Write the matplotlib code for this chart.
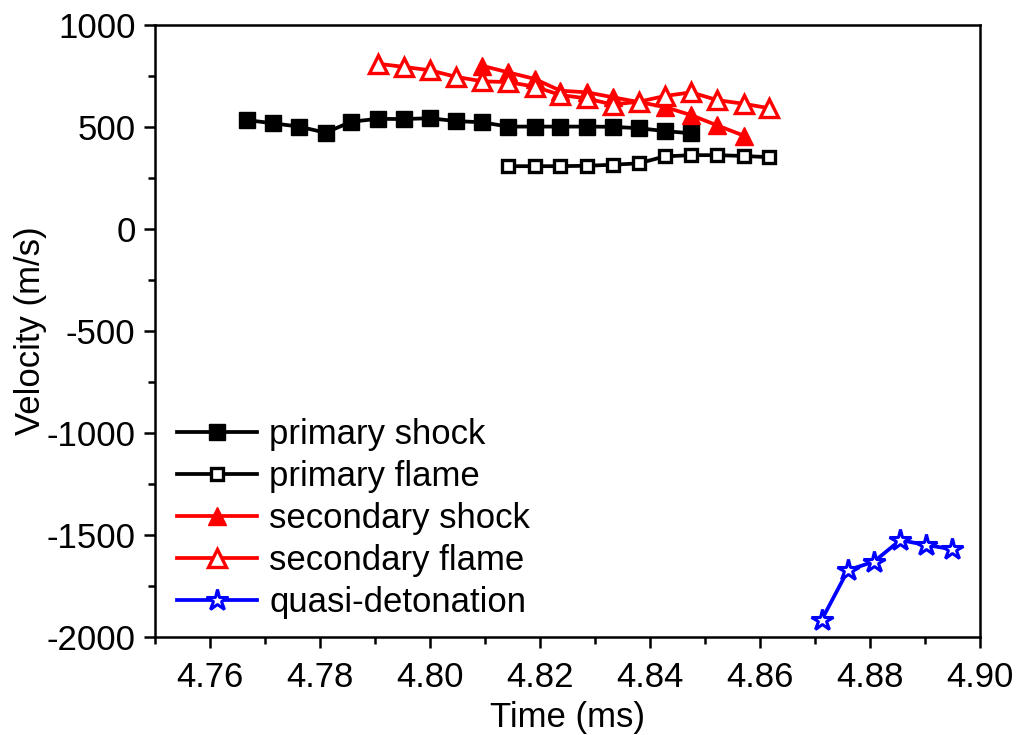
import numpy as np
import matplotlib
matplotlib.use('Agg')
import matplotlib.pyplot as plt
from matplotlib.ticker import MultipleLocator, FormatStrFormatter

plt.rcParams['font.family'] = ['Liberation Sans', 'DejaVu Sans']
plt.rcParams['axes.unicode_minus'] = False

## data
t_ps = [4.7667, 4.7715, 4.7762, 4.7810, 4.7857, 4.7905, 4.7952, 4.8000, 4.8047,
        4.8095, 4.8142, 4.8190, 4.8237, 4.8285, 4.8332, 4.8380, 4.8427, 4.8475]
v_ps = [534, 518, 502, 472, 526, 540, 539, 543, 529, 523, 502, 502, 502, 502, 501, 494, 480, 469]

t_pf = [4.8142, 4.8190, 4.8237, 4.8285, 4.8332, 4.8380, 4.8427, 4.8475, 4.8522, 4.8570, 4.8617]
v_pf = [308, 308, 308, 310, 315, 322, 356, 362, 362, 358, 352]

t_ss = [4.8095, 4.8142, 4.8190, 4.8237, 4.8285, 4.8332, 4.8380, 4.8427, 4.8475, 4.8522, 4.8570]
v_ss = [800, 768, 736, 678, 670, 646, 622, 598, 558, 508, 458]

t_sf = [4.7905, 4.7952, 4.8000, 4.8047, 4.8095, 4.8142, 4.8190, 4.8237, 4.8285,
        4.8332, 4.8380, 4.8427, 4.8475, 4.8522, 4.8570, 4.8617]
v_sf = [810, 795, 778, 746, 724, 720, 698, 657, 640, 610, 624, 652, 670, 632, 614, 592]

t_qd = [4.8712, 4.8760, 4.8807, 4.8855, 4.8902, 4.8950]
v_qd = [-1917, -1672, -1631, -1525, -1549, -1570]

fig = plt.figure(figsize=(10.18, 7.35), dpi=100)
ax = fig.add_axes([155/1018, 98/735, 825/1018, 612/735])

lw = 2.7
ax.plot(t_ps, v_ps, '-s', color='k', lw=lw, ms=11, label='primary shock')
ax.plot(t_pf, v_pf, '-s', color='k', lw=lw, ms=8.5, mfc='white', mew=2.4, label='primary flame')
ax.plot(t_ss, v_ss, '-^', color='red', lw=lw, ms=13, label='secondary shock')
ax.plot(t_sf, v_sf, '-^', color='red', lw=lw, ms=13, mfc='white', mew=2.4, label='secondary flame')
ax.plot(t_qd, v_qd, '-*', color='blue', lw=lw, ms=16, mfc='white', mew=2.2, label='quasi-detonation')

ax.set_xlim(4.75, 4.90)
ax.set_ylim(-2000, 1000)
ax.xaxis.set_major_locator(MultipleLocator(0.02))
ax.xaxis.set_minor_locator(MultipleLocator(0.01))
ax.xaxis.set_major_formatter(FormatStrFormatter('%.2f'))
ax.yaxis.set_major_locator(MultipleLocator(500))
ax.yaxis.set_minor_locator(MultipleLocator(250))

for s in ax.spines.values():
    s.set_linewidth(1.8)
ax.tick_params(which='both', direction='out', width=1.8, labelsize=25, top=False, right=False)
ax.tick_params(which='major', length=8)
ax.tick_params(which='minor', length=5)
ax.tick_params(axis='x', which='major', pad=9)
ax.tick_params(axis='y', which='major', pad=6)

ax.set_xlabel('Time (ms)', fontsize=25, labelpad=5)
ax.set_ylabel('Velocity (m/s)', fontsize=25, labelpad=0)

ax.legend(loc='lower left', bbox_to_anchor=(0.01, 0.007), frameon=False, fontsize=25,
          handlelength=2.3, handletextpad=0.35, labelspacing=0.26, borderaxespad=0)

fig.savefig('out.png', dpi=100)
